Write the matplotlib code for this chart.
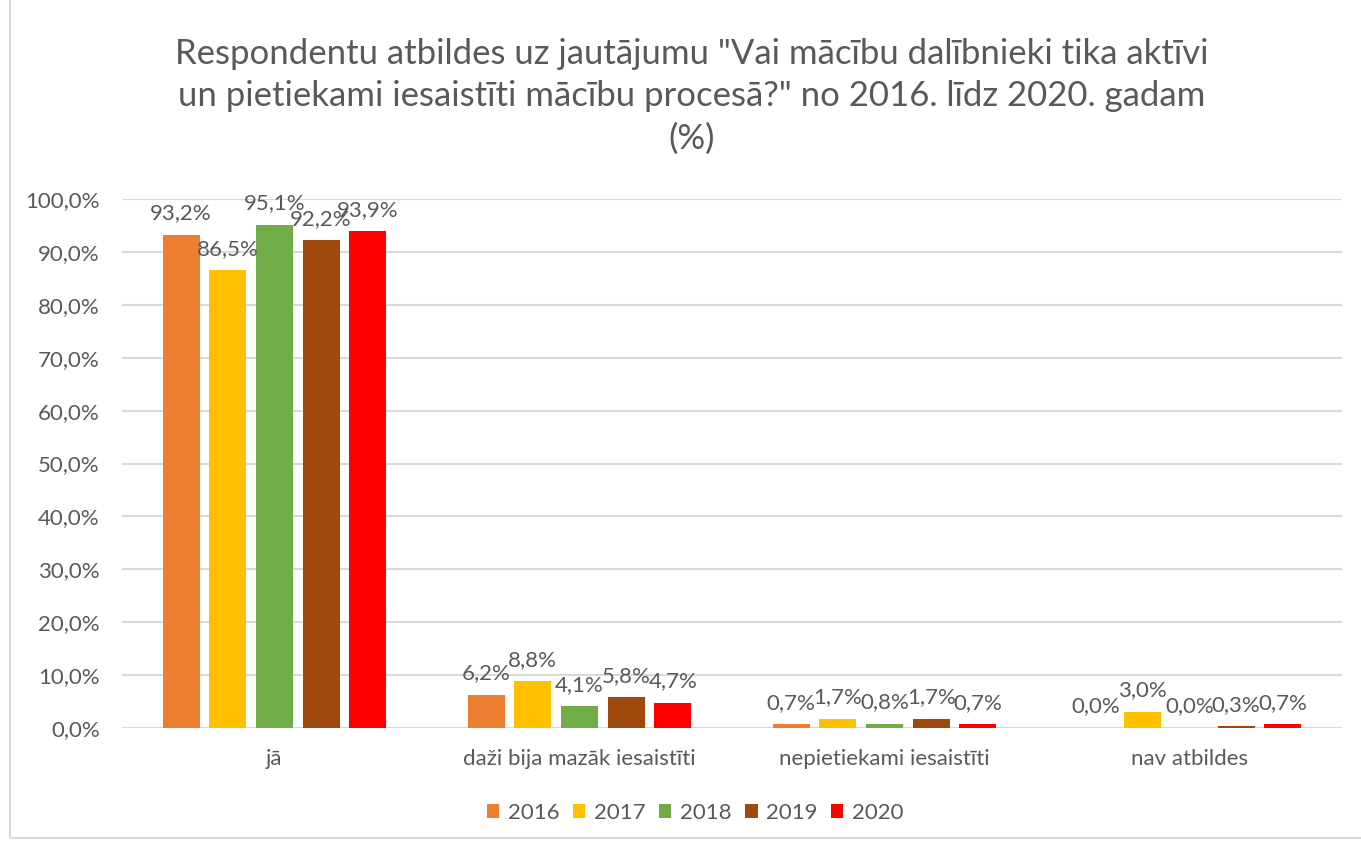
import matplotlib.pyplot as plt
import numpy as np
from matplotlib.patches import Rectangle

plt.rcParams['font.family'] = ['Lato', 'DejaVu Sans']

categories = ['jā', 'daži bija mazāk iesaistīti', 'nepietiekami iesaistīti', 'nav atbildes']
years = ['2016', '2017', '2018', '2019', '2020']
v2016 = [93.2, 6.2, 0.7, 0.0]
v2017 = [86.5, 8.8, 1.7, 3.0]
v2018 = [95.1, 4.1, 0.8, 0.0]
v2019 = [92.2, 5.8, 1.7, 0.3]
v2020 = [93.9, 4.7, 0.7, 0.7]
series = [v2016, v2017, v2018, v2019, v2020]
colors = ['#ED7D31', '#FFC000', '#70AD47', '#9E480E', '#FF0000']

txt = '#595959'
fig = plt.figure(figsize=(13.61, 8.44), dpi=100)
ax = fig.add_axes([122/1361, 116/844, 1220/1361, 529/844])

x = np.arange(len(categories))
w = 0.122
step = 0.153
for i, vals in enumerate(series):
    pos = x + (i - 2) * step
    ax.bar(pos, vals, width=w, color=colors[i], label=years[i], zorder=3)
    for p, v in zip(pos, vals):
        ax.text(p, v + 2.2, f'{v:.1f}%'.replace('.', ','), ha='center', va='bottom',
                fontsize=16, color=txt, zorder=4)

ax.set_xlim(-0.5, 3.5)
ax.set_ylim(0, 100)
ax.set_yticks(np.arange(0, 101, 10))
ax.set_yticklabels([f'{t:.1f}%'.replace('.', ',') for t in np.arange(0, 101, 10)])
ax.set_xticks(x)
ax.set_xticklabels(categories)
ax.tick_params(axis='both', length=0, labelsize=16, colors=txt)
ax.tick_params(axis='x', pad=15)
ax.tick_params(axis='y', pad=16)
ax.grid(axis='y', color='#D9D9D9', linewidth=1.5, zorder=0)
for s in ax.spines.values():
    s.set_visible(False)

fig.text(0.508, 0.955, 'Respondentu atbildes uz jautājumu "Vai mācību dalībnieki tika aktīvi\n'
         'un pietiekami iesaistīti mācību procesā?" no 2016. līdz 2020. gadam\n(%)',
         ha='center', va='top', fontsize=25, color=txt, linespacing=1.4)

fig.legend(loc='center', bbox_to_anchor=(0.511, 0.037), ncol=5, frameon=False,
           fontsize=16, labelcolor=txt, handlelength=0.55, handleheight=0.55,
           handletextpad=0.4, columnspacing=0.6)

fig.patches.append(Rectangle((0.007, 0.007), 1.2, 1.2, transform=fig.transFigure,
                             fill=False, edgecolor='#D9D9D9', linewidth=1.5))

plt.savefig('out.png', dpi=100)
